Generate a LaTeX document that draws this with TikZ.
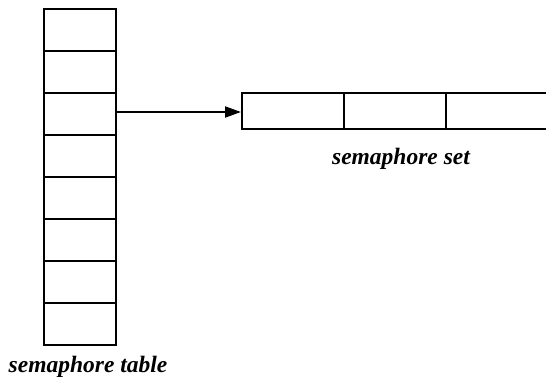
\documentclass[tikz,border=0pt]{standalone}
\usepackage{fontspec}
\setmainfont{Liberation Serif}
\usetikzlibrary{arrows.meta}
\begin{document}
\begin{tikzpicture}[x=1pt,y=-1pt,
  cell/.style={draw,line width=2pt,inner sep=0pt,minimum width=72pt,minimum height=42pt},
  setcell/.style={draw,line width=2pt,inner sep=0pt,minimum width=102pt,minimum height=36pt},
  lbl/.style={font=\fontsize{23.5}{26}\selectfont\bfseries\itshape,inner sep=0pt}]
\useasboundingbox (0,0) rectangle (546,382);
\foreach \i in {1,...,8}{
  \node[cell] (t\i) at (80,{9+42*(\i-1)+21}) {};
}
\node[setcell] (s1) at (293,111) {};
\node[setcell] (s2) at (395,111) {};
\node[setcell] (s3) at (497,111) {};
\coordinate (a0) at ([yshift=2pt]t3.east);
\draw[line width=2pt,-{Triangle[length=16pt,width=11pt]}] (a0) -- (a0 -| s1.west);
\node[lbl] (setl) at (401,159) {semaphore set};
\node[lbl] (tabl) at (88,367) {semaphore table};
\end{tikzpicture}
\end{document}
